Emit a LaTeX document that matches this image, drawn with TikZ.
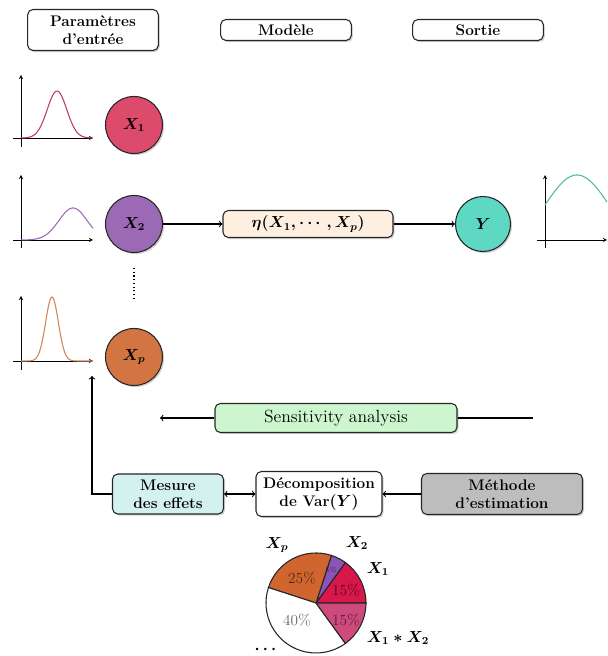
\documentclass[tikz,border=0pt]{standalone}
\usepackage{amsmath}
\usetikzlibrary{shadows}
\definecolor{cxone}{HTML}{DC4A6C}
\definecolor{cxtwo}{HTML}{9C6AB4}
\definecolor{cxp}{HTML}{D27542}
\definecolor{cy}{HTML}{5ED8C3}
\definecolor{ceta}{HTML}{FDF0E0}
\definecolor{csa}{HTML}{CDF6CF}
\definecolor{cmes}{HTML}{D3F1EF}
\definecolor{cmet}{HTML}{BDBDBD}
\definecolor{pone}{HTML}{D8174A}
\definecolor{ponetwo}{HTML}{CF4A7C}
\definecolor{ptwo}{HTML}{8B55B8}
\definecolor{pp}{HTML}{D0652F}

\begin{document}
\begin{tikzpicture}[
    x=0.75pt, y=0.75pt,
    shade/.style={drop shadow={opacity=0.35, shadow xshift=1.2pt, shadow yshift=-1.2pt}},
    head/.style={draw=black!85, thick, rounded corners=4pt, fill=white, shade,
        minimum width=98pt, minimum height=15.75pt, inner sep=1pt, align=center,
        font=\fontsize{11.5}{13.5}\selectfont\bfseries},
    var/.style={circle, draw=black!85, thick, shade, minimum size=42.75pt,
        inner sep=0pt, font=\fontsize{11.5}{13.5}\selectfont\boldmath},
    box/.style={draw=black!85, thick, rounded corners=4pt, shade, inner sep=1pt,
        align=center, font=\fontsize{11.5}{13.5}\selectfont\bfseries\boldmath},
    axis/.style={thin, ->, >=stealth},
    curve/.style={thick},
    edge/.style={thick, ->},
    line/.style={thick, -},
    slice/.style={draw=black!85, thick},
    pct/.style={text opacity=0.6, font=\fontsize{11.5}{13.5}\selectfont},
    lab/.style={font=\fontsize{11.5}{13.5}\selectfont\boldmath}
]
    \useasboundingbox (0,0) rectangle (607,656);

    \node[head, minimum height=30.75pt] (hin) at (93,626) {Paramètres\\d'entrée};
    \node[head] (hmod) at (286,626) {Modèle};
    \node[head] (hout) at (478,626) {Sortie};

    \draw[axis] (13,518) -- (93,518);
    \draw[axis] (21,509) -- (21,581);
    \draw[curve, cxone!85!black] plot[domain=21:93, samples=60] (\x, {518+47*exp(-((\x-57)/13.8)^2)});
    \node[var, fill=cxone] (x1) at (134,531) {$X_1$};

    \draw[axis] (13,416) -- (93,416);
    \draw[axis] (21,408) -- (21,481);
    \draw[curve, cxtwo] plot[domain=21:93, samples=60] (\x, {416+32*exp(-((\x-73)/20)^2)});
    \node[var, fill=cxtwo] (x2) at (134,432) {$X_2$};

    \draw[axis] (13,295) -- (93,295);
    \draw[axis] (21,286) -- (21,360);
    \draw[curve, cxp!90!white] plot[domain=21:93, samples=80] (\x, {295+64*exp(-((\x-52)/9)^2)});
    \node[var, fill=cxp] (xp) at (134,299) {$X_p$};

    \draw[line, dotted, very thick] (134,388) -- (134,356);

    \node[box, fill=ceta, minimum width=127.5pt, minimum height=20.25pt] (eta) at (308,432) {$\eta(X_1,\cdots,X_p)$};
    \node[var, fill=cy, minimum size=41.25pt] (y) at (483,432) {$Y$};
    \draw[edge] (x2) -- (eta);
    \draw[edge] (eta) -- (y);

    \draw[axis] (537,416) -- (607,416);
    \draw[axis] (545,408) -- (545,481);
    \draw[curve, cy!85!black] plot[domain=545:607, samples=50] (\x, {451+30*cos((\x-577)*90/32)});

    \node[box, fill=csa, minimum width=181.5pt, minimum height=21.75pt,
        font=\fontsize{13.2}{15}\selectfont] (sa) at (336,238) {Sensitivity analysis};
    \coordinate (saleft) at (160,238);
    \coordinate (saright) at (533,238);
    \draw[edge] (sa) -- (saleft);
    \draw[line] (sa) -- (saright);

    \node[box, fill=cmes, minimum width=83.25pt, minimum height=30pt] (mes) at (168,162) {Mesure\\des effets};
    \node[box, fill=white, minimum width=94.5pt, minimum height=33.75pt] (dec) at (319,162) {Décomposition\\de Var$(Y)$};
    \node[box, fill=cmet, minimum width=120.75pt, minimum height=30.75pt] (met) at (502,162) {Méthode\\d'estimation};
    \coordinate (corner) at (92,162);
    \coordinate (up) at (92,280);
    \draw[edge, <->] (mes) -- (dec);
    \draw[edge] (met) -- (dec);
    \draw[edge] (mes) -- (corner) -- (up);

    \coordinate (pc) at (316,53);
    \filldraw[slice, fill=pone] (pc) -- ++(0:50) arc (0:54:50) -- cycle;
    \filldraw[slice, fill=ptwo] (pc) -- ++(54:50) arc (54:72:50) -- cycle;
    \filldraw[slice, fill=pp] (pc) -- ++(72:50) arc (72:162:50) -- cycle;
    \filldraw[slice, fill=white] (pc) -- ++(162:50) arc (162:306:50) -- cycle;
    \filldraw[slice, fill=ponetwo] (pc) -- ++(306:50) arc (306:360:50) -- cycle;
    \node[pct] (p1) at (346,66) {15\%};
    \node[pct, font=\fontsize{5}{6}\selectfont] (p2) at (331,86) {5\%};
    \node[pct] (pp) at (302,78) {25\%};
    \node[pct] (pr) at (297,36) {40\%};
    \node[pct] (p12) at (346,36) {15\%};
    \node[lab] (lp) at (277,111) {$X_p$};
    \node[lab] (l2) at (357,113) {$X_2$};
    \node[lab] (l1) at (378,87) {$X_1$};
    \node[lab] (l12) at (398,18) {$X_1*X_2$};
    \node[lab] (lr) at (267,6) {$\cdots$};
\end{tikzpicture}
\end{document}
